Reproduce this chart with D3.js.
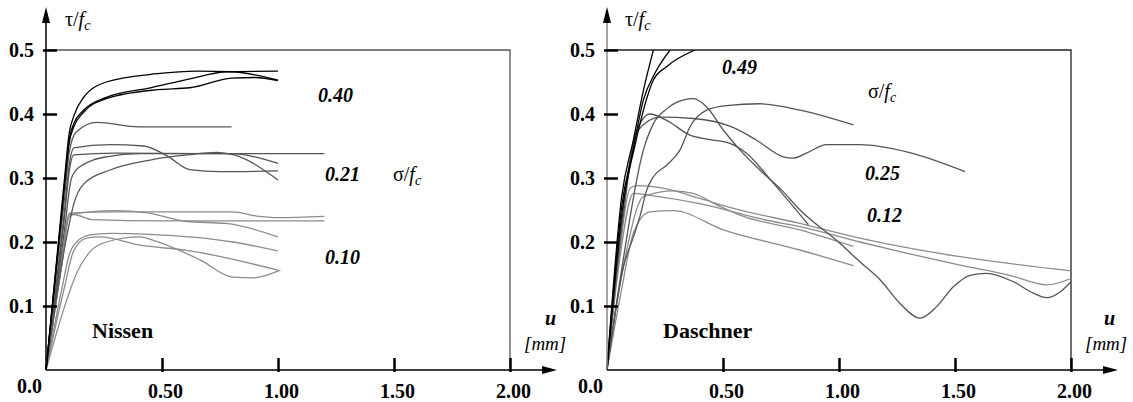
<!DOCTYPE html>
<html><head><meta charset="utf-8">
<script src="https://cdn.jsdelivr.net/npm/d3@7"></script>
<style>body{margin:0;background:#fff} svg{display:block} svg text{font-family:"Liberation Serif","DejaVu Serif","Times New Roman",serif !important}</style>
</head><body>
<svg id="c" width="1133" height="402" font-family="Liberation Serif, DejaVu Serif, serif"></svg>
<script>
// ---------- data ----------
const xTicks = [0.5, 1.0, 1.5, 2.0];
const xTickLabels = ["0.50", "1.00", "1.50", "2.00"];
const yTicks = [0.1, 0.2, 0.3, 0.4, 0.5];
const yTickLabels = ["0.1", "0.2", "0.3", "0.4", "0.5"];

// Nissen, sigma/fc = 0.40
const nissen040 = [
  [[0,0],[0.08,0.30],[0.10,0.37],[0.12,0.397],[0.16,0.425],[0.26,0.45],[0.48,0.463],[0.65,0.467],[0.80,0.466],[1.0,0.453]],
  [[0,0],[0.08,0.29],[0.10,0.36],[0.12,0.385],[0.16,0.405],[0.26,0.426],[0.45,0.441],[0.62,0.455],[0.78,0.466],[1.0,0.467]],
  [[0,0],[0.08,0.29],[0.10,0.355],[0.12,0.38],[0.16,0.402],[0.26,0.424],[0.48,0.438],[0.62,0.441],[0.80,0.456],[0.90,0.457],[1.0,0.452]]
];
// Nissen, sigma/fc = 0.21
const nissen021 = [
  [[0,0],[0.08,0.27],[0.10,0.34],[0.13,0.372],[0.22,0.387],[0.40,0.38],[0.80,0.38]],
  [[0,0],[0.08,0.25],[0.10,0.32],[0.12,0.347],[0.276,0.352],[0.42,0.35],[0.52,0.335],[0.62,0.313],[0.75,0.31],[1.0,0.311]],
  [[0,0],[0.08,0.24],[0.10,0.31],[0.12,0.336],[0.30,0.339],[0.70,0.338],[1.2,0.338]],
  [[0,0],[0.08,0.22],[0.11,0.30],[0.147,0.318],[0.26,0.333],[0.405,0.338],[0.81,0.338],[0.90,0.333],[1.0,0.323]],
  [[0,0],[0.09,0.21],[0.12,0.26],[0.161,0.29],[0.276,0.3125],[0.448,0.328],[0.606,0.336],[0.736,0.34],[0.81,0.336],[1.0,0.297]]
];
// Nissen, sigma/fc = 0.10
const nissen010 = [
  [[0,0],[0.07,0.18],[0.10,0.245],[0.30,0.247],[0.80,0.247],[0.92,0.24],[1.0,0.238],[1.2,0.24]],
  [[0,0],[0.07,0.17],[0.10,0.24],[0.12,0.243],[0.20,0.235],[0.50,0.233],[1.2,0.233]],
  [[0,0],[0.07,0.17],[0.10,0.243],[0.297,0.249],[0.43,0.246],[0.606,0.232],[0.776,0.229],[1.0,0.208]],
  [[0,0],[0.07,0.13],[0.10,0.18],[0.132,0.20],[0.19,0.211],[0.276,0.2135],[0.448,0.212],[0.807,0.20],[1.0,0.186]],
  [[0,0],[0.08,0.13],[0.118,0.185],[0.175,0.206],[0.233,0.208],[0.405,0.195],[0.606,0.187],[1.0,0.156]],
  [[0,0],[0.09,0.11],[0.132,0.151],[0.19,0.185],[0.26,0.20],[0.405,0.208],[0.46,0.203],[0.664,0.172],[0.806,0.145],[0.89,0.144],[1.01,0.156]]
];

// Daschner, sigma/fc = 0.49
const daschner049 = [
  [[0,0],[0.063,0.27],[0.114,0.36],[0.157,0.437],[0.20,0.50]],
  [[0,0],[0.065,0.26],[0.11,0.34],[0.157,0.422],[0.207,0.464],[0.272,0.50]],
  [[0,0],[0.07,0.26],[0.12,0.35],[0.16,0.41],[0.20,0.453],[0.257,0.474],[0.379,0.50]]
];
// Daschner, sigma/fc = 0.25
const daschner025 = [
  [[0,0],[0.07,0.25],[0.12,0.365],[0.185,0.40],[0.257,0.39],[0.358,0.367],[0.444,0.36],[0.53,0.354],[0.60,0.339],[0.717,0.292],[0.868,0.227]],
  [[0,0],[0.07,0.24],[0.128,0.372],[0.228,0.395],[0.372,0.393],[0.543,0.379],[0.645,0.359],[0.76,0.333],[0.80,0.331],[0.86,0.339],[0.947,0.352],[1.09,0.352],[1.30,0.34],[1.543,0.31]],
  [[0,0],[0.07,0.16],[0.114,0.208],[0.142,0.24],[0.171,0.281],[0.20,0.302],[0.257,0.32],[0.315,0.344],[0.358,0.38],[0.43,0.406],[0.516,0.413],[0.659,0.416],[0.832,0.406],[1.062,0.383]],
  [[0,0],[0.056,0.14],[0.157,0.344],[0.20,0.385],[0.257,0.408],[0.33,0.422],[0.372,0.424],[0.43,0.411],[0.501,0.375],[0.573,0.344],[0.659,0.3125],[0.753,0.281],[0.832,0.25],[1.004,0.198],[1.09,0.169],[1.177,0.141],[1.263,0.104],[1.349,0.081],[1.421,0.099],[1.493,0.13],[1.565,0.148],[1.636,0.151],[1.751,0.138],[1.838,0.12],[1.895,0.113],[1.953,0.122],[2.0,0.138]]
];
// Daschner, sigma/fc = 0.12
const daschner012 = [
  [[0,0],[0.05,0.17],[0.099,0.284],[0.128,0.288],[0.257,0.283],[0.40,0.268],[0.55,0.252],[0.832,0.229],[1.09,0.206],[1.263,0.193],[1.522,0.177],[2.0,0.155]],
  [[0,0],[0.05,0.16],[0.114,0.276],[0.185,0.273],[0.40,0.26],[0.688,0.234],[0.832,0.224],[1.09,0.20],[1.263,0.185],[1.522,0.164],[1.737,0.148],[1.895,0.133],[2.0,0.143]],
  [[0,0],[0.05,0.12],[0.085,0.1875],[0.157,0.271],[0.286,0.28],[0.372,0.276],[0.473,0.258],[0.588,0.24],[0.832,0.219],[1.062,0.193]],
  [[0,0],[0.06,0.12],[0.114,0.214],[0.185,0.247],[0.286,0.249],[0.501,0.219],[0.832,0.1875],[1.062,0.163]]
];

// ---------- drawing ----------
const FONT = "Liberation Serif, DejaVu Serif, serif";
const svg = d3.select("#c");
const COL_HI = "#000", COL_MID = "#555", COL_LO = "#8c8c8c";

function panel(x0, yAxisColor, frameColor, groups, id) {
  const x = d3.scaleLinear().domain([0, 2]).range([x0, x0 + 464]);
  const y = d3.scaleLinear().domain([0, 0.5]).range([370, 50]);
  const g = svg.append("g").attr("font-family", FONT);

  svg.append("clipPath").attr("id", "clip" + id).append("rect")
    .attr("x", x(0) - 2).attr("y", y(0.5)).attr("width", x(2) - x(0) + 4).attr("height", y(0) - y(0.5) + 2);

  // frame
  g.append("path").attr("d", `M${x(0)},${y(0.5)}H${x(2)}V${y(0)}`)
    .attr("fill", "none").attr("stroke", frameColor).attr("stroke-width", 1.3);

  // curves
  const line = d3.line().x(d => x(d[0])).y(d => y(d[1])).curve(d3.curveMonotoneX);
  const cg = g.append("g").attr("clip-path", `url(#clip${id})`);
  groups.forEach(gr => {
    gr.curves.forEach(c => {
      cg.append("path").attr("d", line(c)).attr("fill", "none")
        .attr("stroke", gr.color).attr("stroke-width", 1.3).attr("stroke-linejoin", "round");
    });
  });

  // axis lines with arrows
  g.append("line").attr("x1", x(0)).attr("x2", x(0)).attr("y1", y(0)).attr("y2", 18)
    .attr("stroke", yAxisColor).attr("stroke-width", 1.5);
  g.append("path").attr("d", `M${x(0) - 4},${23}L${x(0) + 4},${23}L${x(0)},${7}Z`).attr("fill", "#000");
  g.append("line").attr("x1", x(0)).attr("x2", x0 + 502).attr("y1", y(0)).attr("y2", y(0))
    .attr("stroke", "#000").attr("stroke-width", 1.5);
  g.append("path").attr("d", `M${x0 + 496},${y(0) - 4}L${x0 + 496},${y(0) + 4}L${x0 + 511},${y(0)}Z`).attr("fill", "#000");

  // y axis ticks and labels
  const ya = d3.axisLeft(y).tickValues(yTicks).tickSize(-11).tickPadding(12)
    .tickFormat((d, i) => yTickLabels[i]);
  const yg = g.append("g").attr("transform", `translate(${x(0)},0)`).call(ya).attr("font-family", FONT);
  yg.select(".domain").remove();
  yg.selectAll(".tick line").attr("x1", -3).attr("stroke", "#000").attr("stroke-width", 2.5);
  yg.selectAll(".tick text").attr("font-size", 20).attr("font-weight", "bold")
    .attr("font-family", FONT).attr("fill", "#000").attr("dy", "0.34em");

  // x axis ticks and labels
  const xa = d3.axisBottom(x).tickValues(xTicks).tickSize(-12).tickPadding(14)
    .tickFormat((d, i) => xTickLabels[i]);
  const xg = g.append("g").attr("transform", `translate(0,${y(0)})`).call(xa).attr("font-family", FONT);
  xg.select(".domain").remove();
  xg.selectAll(".tick line").attr("y1", 2).attr("stroke", "#000").attr("stroke-width", 2.5);
  xg.selectAll(".tick text").attr("font-size", 20).attr("font-weight", "bold")
    .attr("font-family", FONT).attr("fill", "#000").attr("dx", 3).attr("dy", "0.71em");
  g.append("text").attr("x", x(0) - 4).attr("y", 393).attr("text-anchor", "end")
    .attr("font-size", 20).attr("font-weight", "bold").text("0.0");

  return g;
}

function ratioLabel(g, sym, px, py) {
  const t = g.append("text").attr("x", px).attr("y", py).attr("font-size", 20);
  t.append("tspan").text(sym + "/");
  t.append("tspan").attr("font-style", "italic").text("f");
  t.append("tspan").attr("font-style", "italic").attr("font-size", 14).attr("dy", 4).text("c");
}
function valLabel(g, txt, px, py) {
  g.append("text").attr("x", px).attr("y", py).attr("font-size", 20)
    .attr("font-weight", "bold").attr("font-style", "italic").text(txt);
}
function unitLabel(g, px1, px2) {
  g.append("text").attr("x", px1).attr("y", 325).attr("font-size", 20)
    .attr("font-weight", "bold").attr("font-style", "italic").text("u");
  g.append("text").attr("x", px2).attr("y", 350).attr("font-size", 19)
    .attr("font-style", "italic").text("[mm]");
}

// Left: Nissen
const gl = panel(46, "#000", "#555", [
  { color: COL_LO, curves: nissen010 },
  { color: COL_MID, curves: nissen021 },
  { color: COL_HI, curves: nissen040 }
], "L");
ratioLabel(gl, "τ", 65, 26);
valLabel(gl, "0.40", 318, 102);
valLabel(gl, "0.21", 325, 181);
ratioLabel(gl, "σ", 393, 181);
valLabel(gl, "0.10", 325, 264);
gl.append("text").attr("x", 92).attr("y", 338).attr("font-size", 22).attr("font-weight", "bold").text("Nissen");
unitLabel(gl, 545, 524);

// Right: Daschner
const gr = panel(607, "#888", "#222", [
  { color: COL_LO, curves: daschner012 },
  { color: COL_MID, curves: daschner025 },
  { color: COL_HI, curves: daschner049 }
], "R");
ratioLabel(gr, "τ", 625, 26);
valLabel(gr, "0.49", 722, 74);
ratioLabel(gr, "σ", 868, 98);
valLabel(gr, "0.25", 865, 180);
valLabel(gr, "0.12", 867, 222);
gr.append("text").attr("x", 663).attr("y", 338).attr("font-size", 22).attr("font-weight", "bold").text("Daschner");
unitLabel(gr, 1104, 1085);
</script>
</body></html>
